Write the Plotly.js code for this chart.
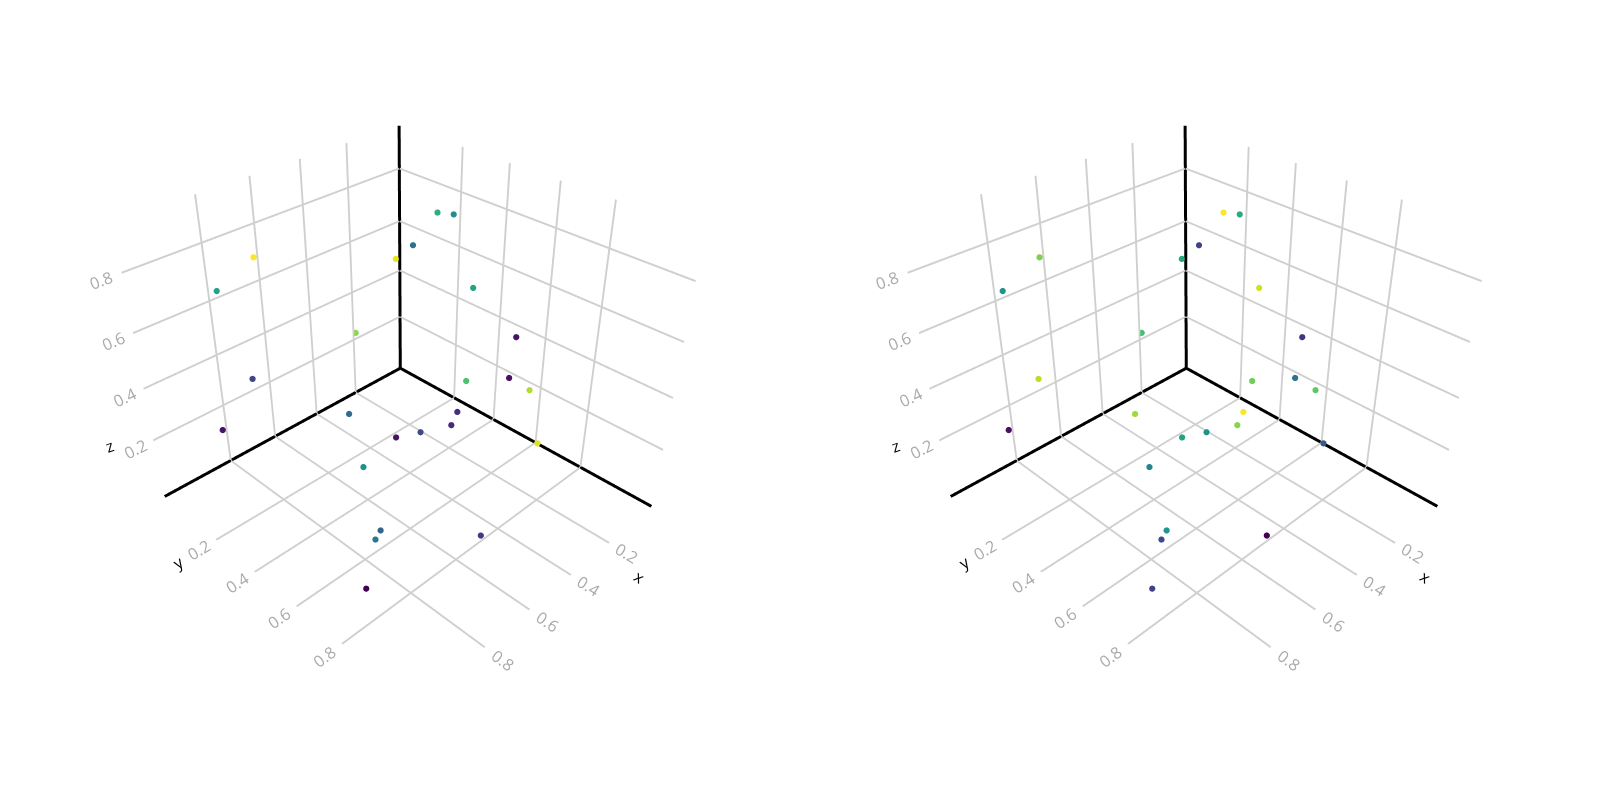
<!DOCTYPE html><html><head><meta charset="utf-8"><script src="https://cdn.plot.ly/plotly-3.0.1.min.js"></script></head><body style="margin:0;background:#fff">
<div id="g" style="width:1600px;height:800px"></div>
<script>
const xVals=[-0.043,-0.043,-0.043,0.020,-0.043,-0.043,-0.043,-0.043,-0.043,0.000,0.017,0.095,0.207,0.293,0.316,0.494,0.676,0.717,0.465,0.884,0.617,0.770,0.191,0.672,0.817];
const yVals=[0.095,0.171,-0.024,-0.050,0.273,0.478,0.460,0.554,0.259,0.640,0.273,0.314,0.264,0.223,-0.006,0.264,0.540,0.559,0.784,0.694,-0.093,-0.093,-0.093,-0.093,-0.093];
const zVals=[0.694,0.711,0.529,0.487,0.467,0.354,0.177,0.170,0.069,0.005,-0.036,-0.036,-0.036,-0.036,-0.036,-0.036,-0.036,-0.036,-0.036,-0.036,0.688,0.625,0.228,0.248,0.106];
const colorLeft=[0.63,0.48,0.38,0.97,0.58,0.05,0.04,0.88,0.72,0.95,0.13,0.12,0.22,0.05,0.35,0.50,0.32,0.40,0.17,0.00,1.00,0.58,0.83,0.21,0.05];
const colorRight=[1.00,0.62,0.20,0.60,0.93,0.15,0.38,0.75,0.78,0.28,1.00,0.82,0.50,0.58,0.86,0.45,0.52,0.22,0.00,0.20,0.80,0.51,0.70,0.90,0.04];
const tickVals=[0.2,0.4,0.6,0.8];
const tickText=['0.2','0.4','0.6','0.8'];
const xRange=[-0.045,1.077], yRange=[-0.095,1.093], zRange=[-0.038,0.955];
const axisLineX=[1.075,-0.044,-0.044,-0.044,-0.044];
const axisLineY=[-0.094,-0.094,1.091,-0.094,-0.094];
const axisLineZ=[-0.037,-0.037,-0.037,-0.037,0.953];
const names=['x','y','z'];

const axis=(r)=>({range:r,tickvals:tickVals,ticktext:tickText,showbackground:false,showspikes:false,zeroline:false,showline:false,ticks:'',gridcolor:'#cfcfcf',gridwidth:4,tickfont:{size:14,color:'#aaaaaa',family:'Open Sans'},title:{text:''}});
const ann=(text,x,y,z,xshift,yshift,angle)=>({text,x,y,z,xshift,yshift,textangle:angle,showarrow:false,font:{size:16,color:'#000',family:'Open Sans'}});
const scene=(dom)=>({domain:{x:dom,y:[0,1]},aspectmode:'manual',aspectratio:{x:0.986,y:1.049,z:0.881},
 xaxis:axis(xRange),yaxis:axis(yRange),zaxis:axis(zRange),
 camera:{eye:{x:1.526,y:1.527,z:1.441},center:{x:0.002,y:0.004,z:-0.071},up:{x:0,y:0,z:1}},
 annotations:[ann(names[0],-0.044,1.091,-0.037,-12,-71,35),ann(names[1],1.075,-0.094,-0.037,14,-66,-32),ann(names[2],1.075,-0.094,-0.037,-55,50,-20)]});
const pointsTrace=(c,s)=>({type:'scatter3d',mode:'markers',scene:s,x:xVals,y:yVals,z:zVals,hoverinfo:'skip',marker:{size:3.6,color:c,cmin:0,cmax:1,colorscale:'Viridis',showscale:false,line:{width:0}}});
const linesTrace=(s)=>({type:'scatter3d',mode:'lines',scene:s,x:axisLineX,y:axisLineY,z:axisLineZ,hoverinfo:'skip',line:{color:'#000',width:6}});
Plotly.newPlot('g',[linesTrace('scene'),pointsTrace(colorLeft,'scene'),linesTrace('scene2'),pointsTrace(colorRight,'scene2')],
 {width:1600,height:800,margin:{l:14,r:14,t:0,b:0},showlegend:false,paper_bgcolor:'#fff',scene:scene([0,0.5]),scene2:scene([0.5,1])},{displayModeBar:false});
</script></body></html>
